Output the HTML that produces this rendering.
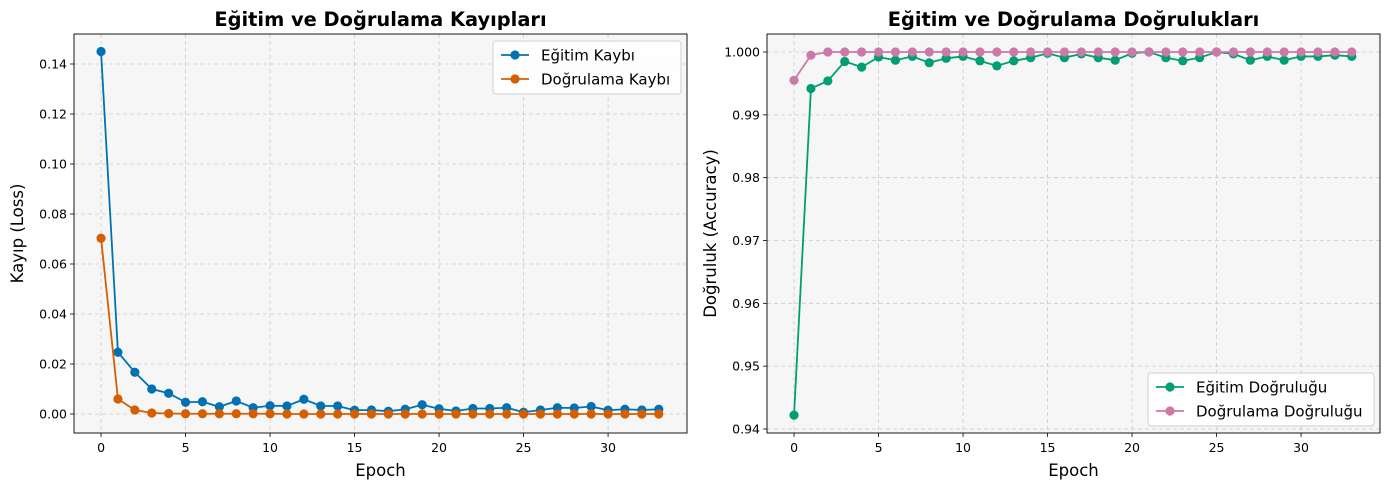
<!DOCTYPE html>
<html><head><meta charset="utf-8"><style>
body{margin:0;background:#fff;}
svg{display:block;font-family:"DejaVu Sans","Liberation Sans",sans-serif;}
</style></head><body>
<svg id="c" width="1390" height="490"></svg>
<script>
const epochs = Array.from({length:34},(_,i)=>i);
const trainLoss=[0.145,0.0247,0.0167,0.0100,0.0083,0.0047,0.0049,0.0029,0.0052,0.0025,0.0033,0.0032,0.0059,0.0032,0.0032,0.0015,0.0016,0.0011,0.0019,0.0037,0.0021,0.0012,0.0022,0.0022,0.0025,0.0007,0.0016,0.0025,0.0024,0.0030,0.0015,0.0019,0.0016,0.0019];
const valLoss=[0.0703,0.0060,0.0016,0.0004,0.0002,0.0001,0.0001,0.0001,0.0001,0.0001,0.0001,0,0,0,0,0,0,0,0,0,0,0,0,0,0,0,0,0,0,0,0,0,0,0];
const trainAcc=[0.9422,0.9942,0.9954,0.9985,0.9976,0.9992,0.9987,0.9993,0.9983,0.9990,0.9993,0.9986,0.9978,0.9986,0.9991,0.9998,0.9991,0.9997,0.9991,0.9987,0.9998,1.0,0.9991,0.9986,0.9991,1.0,0.9997,0.9987,0.9993,0.9987,0.9993,0.9993,0.9995,0.9993];
const valAcc=[0.9955,0.9995,1,1,1,1,1,1,1,1,1,1,1,1,1,1,1,1,1,1,1,1,1,1,1,1,1,1,1,1,1,1,1,1];
const xTicks=[0,5,10,15,20,25,30];
const lossTicks=[0,0.02,0.04,0.06,0.08,0.10,0.12,0.14];
const lossTickLabels=['0.00','0.02','0.04','0.06','0.08','0.10','0.12','0.14'];
const accTicks=[0.94,0.95,0.96,0.97,0.98,0.99,1.0];
const accTickLabels=['0.94','0.95','0.96','0.97','0.98','0.99','1.000'];

const NS="http://www.w3.org/2000/svg";
const svg=document.getElementById('c');
function el(tag,attrs,parent,text){const e=document.createElementNS(NS,tag);for(const k in attrs)e.setAttribute(k,attrs[k]);if(text!==undefined)e.textContent=text;(parent||svg).appendChild(e);return e;}

function chart(o){
  const g=el('g',{});
  
  
  const L=o.left,R=o.left+613,T=34,B=433;
  const sx=v=>L+(v-(-1.6))/(34.67+1.6)*(R-L);
  const sy=v=>B-(v-o.ymin)/(o.ymax-o.ymin)*(B-T);
  el('rect',{x:L,y:T,width:R-L,height:B-T,fill:'#f6f6f6'},g);
  xTicks.forEach(t=>{const x=sx(t);
    el('line',{x1:x,x2:x,y1:T,y2:B,stroke:'#cccccc','stroke-dasharray':'4,3','stroke-width':0.8},g);
    el('line',{x1:x,x2:x,y1:B,y2:B+4,stroke:'#000','stroke-width':0.8},g);
    const t1=el('text',{x:x,y:B+19,'text-anchor':'middle','font-size':12.5},g,String(t));
    });
  o.ticks.forEach((t,i)=>{const y=sy(t);
    el('line',{x1:L,x2:R,y1:y,y2:y,stroke:'#cccccc','stroke-dasharray':'4,3','stroke-width':0.8},g);
    el('line',{x1:L-4,x2:L,y1:y,y2:y,stroke:'#000','stroke-width':0.8},g);
    const t1=el('text',{x:L-7,y:y+4.5,'text-anchor':'end','font-size':12.5},g,o.labels[i]);
    });
  o.series.forEach(s=>{
    const sg=el('g',{},g);
    
    
    el('polyline',{points:s.data.map((v,i)=>sx(epochs[i])+','+sy(v)).join(' '),fill:'none',stroke:s.color,'stroke-width':1.8},sg);
    s.data.forEach((v,i)=>el('circle',{cx:sx(epochs[i]),cy:sy(v),r:4.6,fill:s.color},sg));
  });
  el('rect',{x:L,y:T,width:R-L,height:B-T,fill:'none',stroke:'#000','stroke-width':0.9},g);
  const tt=el('text',{x:(L+R)/2,y:26,'text-anchor':'middle','font-size':19.4,'font-weight':'bold'},g,o.title);
  
  const xl=el('text',{x:(L+R)/2,y:476,'text-anchor':'middle','font-size':16.5},g,'Epoch');
  
  const yl=el('text',{x:0,y:0,'text-anchor':'middle','font-size':16.5,transform:`translate(${o.ylx},${(T+B)/2}) rotate(-90)`},g,o.ylabel);
  
  const lg=el('g',{},g);
  
  
  el('rect',{x:o.lx,y:o.ly,width:o.lw,height:53,rx:3,fill:'#fff','fill-opacity':0.85,stroke:'#d0d0d0'},lg);
  o.series.forEach((s,i)=>{const y=o.ly+14+i*24;
    el('line',{x1:o.lx+8,x2:o.lx+36,y1:y,y2:y,stroke:s.color,'stroke-width':1.8},lg);
    el('circle',{cx:o.lx+22,cy:y,r:4.6,fill:s.color},lg);
    const e=el('text',{x:o.lx+48,y:y+5.5,'font-size':15},lg,s.label);
    });
}
chart({name:'loss-chart',left:74,ymin:-0.0076,ymax:0.152,ticks:lossTicks,labels:lossTickLabels,title:'Eğitim ve Doğrulama Kayıpları',ylabel:'Kayıp (Loss)',ylx:23,
  lx:493,ly:41,lw:188,
  series:[{name:'train-loss-line',label:'Eğitim Kaybı',color:'#0072B2',data:trainLoss},{name:'val-loss-line',label:'Doğrulama Kaybı',color:'#D55E00',data:valLoss}]});
chart({name:'accuracy-chart',left:767,ymin:0.93936,ymax:1.00287,ticks:accTicks,labels:accTickLabels,title:'Eğitim ve Doğrulama Doğrulukları',ylabel:'Doğruluk (Accuracy)',ylx:716,
  lx:1148,ly:373,lw:226,
  series:[{name:'train-acc-line',label:'Eğitim Doğruluğu',color:'#009E73',data:trainAcc},{name:'val-acc-line',label:'Doğrulama Doğruluğu',color:'#CC79A7',data:valAcc}]});
</script>
</body></html>
